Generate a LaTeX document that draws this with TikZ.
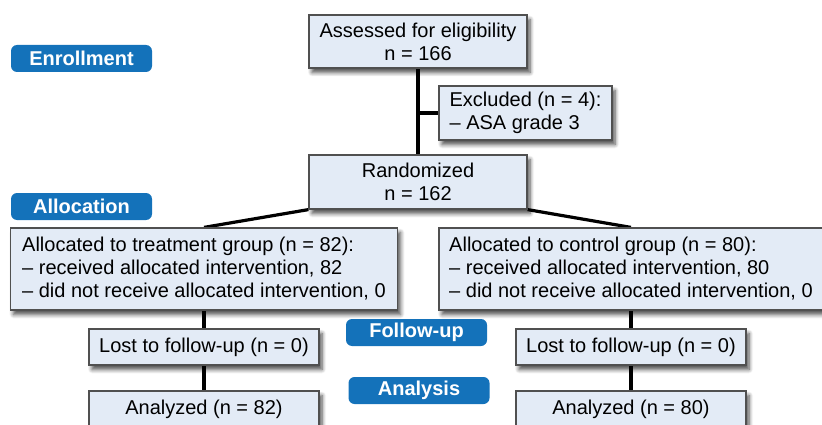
\documentclass[tikz,border=0pt]{standalone}
\usepackage{fontspec}
\setmainfont{Liberation Sans}
\usepackage{tikz}
\usetikzlibrary{shadows.blur}
\definecolor{boxfill}{RGB}{227,235,246}
\definecolor{boxedge}{RGB}{80,80,80}
\definecolor{stageblue}{RGB}{20,114,186}
\newcommand{\diagfont}{\fontsize{20}{23}\selectfont}
\pgfdeclarelayer{edgelayer}
\pgfdeclarelayer{nodelayer}
\pgfsetlayers{edgelayer,nodelayer,main}
\tikzstyle{box}=[rectangle,draw=boxedge,fill=boxfill,line width=1.2,inner sep=0pt,align=center,blur shadow={shadow xshift=3pt,shadow yshift=-4.5pt,shadow opacity=70,shadow blur steps=6,shadow blur radius=4pt}]
\tikzstyle{listbox}=[box,align=left]
\tikzstyle{stage}=[rectangle,rounded corners=6,fill=stageblue,text=white,font=\diagfont\bfseries,minimum width=141,minimum height=27,inner sep=0pt]
\tikzstyle{link}=[-,line width=4.2]
\tikzstyle{split}=[-,line width=3.2]

\begin{document}
\begin{tikzpicture}[x=1pt,y=-1pt,font=\diagfont]
	\useasboundingbox (0,0) rectangle (822,425);
	\begin{pgfonlayer}{nodelayer}
		\node [style=stage] (enrollment) at (81.5, 58.5) {Enrollment};
		\node [style=stage] (allocation) at (81.5, 206.5) {Allocation};
		\node [style=stage] (followup) at (416.5, 332.5) {Follow-up};
		\node [style=stage] (analysis) at (419, 390.5) {Analysis};

		\node [style=box, minimum width=218, minimum height=53] (assessed) at (418, 41.5) {Assessed for eligibility\\n = 166};
		\node [style=listbox, minimum width=173, minimum height=54] (excluded) at (525.5, 113) {Excluded (n = 4):\\– ASA grade 3};
		\node [style=box, minimum width=218, minimum height=54] (randomized) at (418, 182) {Randomized\\n = 162};

		\node [style=listbox, minimum width=387, minimum height=82] (treatment) at (204, 269) {Allocated to treatment group (n = 82):\\– received allocated intervention, 82\\– did not receive allocated intervention, 0};
		\node [style=listbox, minimum width=384, minimum height=82] (control) at (631, 269) {Allocated to control group (n = 80):\\– received allocated intervention, 80\\– did not receive allocated intervention, 0};

		\node [style=box, minimum width=230, minimum height=36] (losttreat) at (204, 347) {Lost to follow-up (n = 0)};
		\node [style=box, minimum width=230, minimum height=36] (lostcontrol) at (631, 347) {Lost to follow-up (n = 0)};
		\node [style=box, minimum width=230, minimum height=36] (analyzedtreat) at (204, 409) {Analyzed (n = 82)};
		\node [style=box, minimum width=230, minimum height=36] (analyzedcontrol) at (631, 409) {Analyzed (n = 80)};
	\end{pgfonlayer}
	\begin{pgfonlayer}{edgelayer}
		\coordinate (exsplit) at (assessed |- excluded);
		\draw [style=link] (assessed) to (randomized);
		\draw [style=link] (exsplit) to (excluded);
		\draw [style=split] (randomized.south west) to (treatment.north);
		\draw [style=split] (randomized.south east) to (control.north);
		\draw [style=link] (treatment) to (losttreat);
		\draw [style=link] (losttreat) to (analyzedtreat);
		\draw [style=link] (control) to (lostcontrol);
		\draw [style=link] (lostcontrol) to (analyzedcontrol);
	\end{pgfonlayer}
\end{tikzpicture}
\end{document}
